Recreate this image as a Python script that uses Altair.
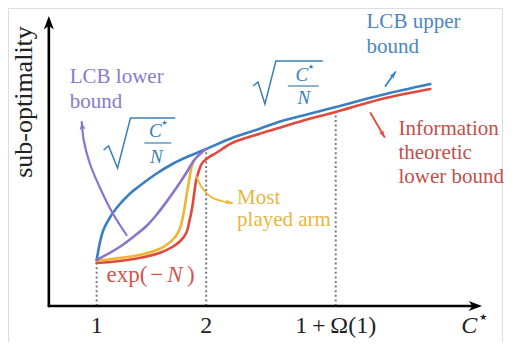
import math
import altair as alt
import pandas as pd

# ---------------- data (x in C* units, y in sub-optimality units) ----------------
blue_x = [1.0, 1.055, 1.118, 1.182, 1.3, 1.391, 1.527, 1.691, 1.845, 2.0, 2.236, 2.482, 2.691, 2.936, 3.182, 3.6, 4.045]
blue_y = [0.46, 0.74, 0.88, 0.98, 1.12, 1.20, 1.31, 1.42, 1.50, 1.57, 1.68, 1.77, 1.85, 1.92, 1.99, 2.11, 2.22]

red_x = [1.0, 1.209, 1.391, 1.573, 1.691, 1.764, 1.818, 1.845, 1.873, 1.891, 1.909, 1.936, 1.964, 2.027, 2.091, 2.236, 2.482, 2.691, 2.936, 3.182, 3.6, 4.045]
red_y = [0.43, 0.45, 0.48, 0.53, 0.59, 0.65, 0.73, 0.84, 0.99, 1.13, 1.26, 1.36, 1.43, 1.49, 1.53, 1.63, 1.72, 1.79, 1.87, 1.94, 2.07, 2.17]

yellow_x = [1.0, 1.209, 1.391, 1.573, 1.636, 1.709, 1.755, 1.791, 1.818, 1.845, 1.864, 1.891]
yellow_y = [0.45, 0.48, 0.51, 0.57, 0.61, 0.68, 0.76, 0.91, 1.09, 1.26, 1.38, 1.46]

purple_x = [1.0, 1.118, 1.236, 1.345, 1.455, 1.545, 1.636, 1.727, 1.818, 1.891, 1.964, 2.0]
purple_y = [0.46, 0.53, 0.61, 0.70, 0.80, 0.91, 1.04, 1.18, 1.33, 1.46, 1.54, 1.57]

# annotation arrows
purple_arrow_x = [1.273, 1.145, 1.027, 0.936, 0.882, 0.864]
purple_arrow_y = [0.71, 0.93, 1.19, 1.43, 1.66, 1.84]
blue_arrow_x = [3.636, 3.727]
blue_arrow_y = [2.20, 2.34]
red_arrow_x = [3.50, 3.627]
red_arrow_y = [1.93, 1.69]
yellow_arrow_x = [1.909, 1.964, 2.045, 2.136, 2.236]
yellow_arrow_y = [1.30, 1.18, 1.09, 1.05, 1.03]

# dotted guides
guide_x = [1.0, 2.0, 3.182]
guide_top = [0.44, 1.55, 1.98]

# tick labels
tick_x = [1.0, 2.0, 3.182]
tick_labels = ["1", "2", "1\u2009+\u2009Ω(1)"]

# axis geometry
x_min, x_max = 0.1909, 4.70
y_min, y_max = -0.36, 2.98
origin_x = 0.5636
x_axis_end, y_axis_end = 4.427, 2.80
x_axis_tip, y_axis_tip = 4.518, 2.90

# colours
BLUE = "#3a7fc1"
RED = "#e0493b"
PURPLE = "#8b74cf"
YELLOW = "#f0b52e"
T_PURPLE = "#8a7acb"
T_BLUE = "#4a87c4"
T_RED = "#c2504a"
T_YELLOW = "#e9b540"
SQRT = "#3b80b2"
EXP = "#d2564f"
INK = "#222222"
FONT = "Liberation Serif"

# pixel scale factors (for arrow angle computation)
PX_X = 496 / (x_max - x_min)
PX_Y = 334 / (y_max - y_min)

X = lambda: alt.X("x:Q", scale=alt.Scale(domain=[x_min, x_max], nice=False, zero=False), axis=None)
Y = lambda: alt.Y("y:Q", scale=alt.Scale(domain=[y_min, y_max], nice=False, zero=False), axis=None)

ARROW = "M0,0 L-2,-0.75 L-1.45,0 L-2,0.75 Z"


def line(xs, ys, color, width=2.6):
    df = pd.DataFrame({"x": xs, "y": ys, "i": range(len(xs))})
    return alt.Chart(df).mark_line(color=color, strokeWidth=width, interpolate="catmull-rom",
                                   strokeCap="round").encode(x=X(), y=Y(), order="i:Q")


def heads(rows):
    recs = []
    for (xs, ys, color, size) in rows:
        dx = (xs[-1] - xs[-2]) * PX_X
        dy = -(ys[-1] - ys[-2]) * PX_Y
        ang = math.degrees(math.atan2(dy, dx)) % 360
        recs.append({"x": xs[-1], "y": ys[-1], "angle": ang, "color": color, "size": size})
    df = pd.DataFrame(recs)
    return alt.Chart(df).mark_point(shape=ARROW, filled=True, opacity=1, strokeWidth=0).encode(
        x=X(), y=Y(),
        angle=alt.Angle("angle:Q", scale=None),
        color=alt.Color("color:N", scale=None),
        size=alt.Size("size:Q", scale=None),
    )


def texts(rows, size, align="left", baseline="alphabetic", style="normal", angle=0, font=FONT):
    df = pd.DataFrame(rows, columns=["x", "y", "t", "color"])
    kw = dict(align=align, baseline=baseline, font=font, fontSize=size, fontStyle=style)
    if angle:
        kw["angle"] = angle
    return alt.Chart(df).mark_text(**kw).encode(
        x=X(), y=Y(), text="t:N", color=alt.Color("color:N", scale=None))


layers = []

# dotted guides
gdf = pd.DataFrame({"x": guide_x, "y": [0] * 3, "y2": guide_top})
layers.append(alt.Chart(gdf).mark_rule(color="#7a7a7a", strokeWidth=2, strokeDash=[2, 2.6]).encode(
    x=X(), y=Y(), y2="y2:Q"))

# axes
layers.append(line([origin_x, x_axis_end], [0, 0], "black", 2.6))
layers.append(line([origin_x, origin_x], [0, y_axis_end], "black", 2.6))
layers.append(heads([([origin_x, x_axis_tip], [0, 0], "black", 180),
                     ([origin_x, origin_x], [0, y_axis_tip], "black", 180)]))

# curves
layers.append(line(blue_x, blue_y, BLUE))
layers.append(line(red_x, red_y, RED))
layers.append(line(yellow_x, yellow_y, YELLOW))
layers.append(line(purple_x, purple_y, PURPLE))

# annotation arrows
layers.append(line(purple_arrow_x, purple_arrow_y, PURPLE, 2.2))
layers.append(line(blue_arrow_x, blue_arrow_y, BLUE, 1.8))
layers.append(line(red_arrow_x, red_arrow_y, RED, 1.8))
layers.append(line(yellow_arrow_x, yellow_arrow_y, YELLOW, 1.8))
layers.append(heads([(purple_arrow_x, purple_arrow_y, PURPLE, 64),
                     (blue_arrow_x, blue_arrow_y, BLUE, 45),
                     (red_arrow_x, red_arrow_y, RED, 45),
                     (yellow_arrow_x, yellow_arrow_y, YELLOW, 45)]))

# square-root symbols
sq_low_x = [1.0636, 1.109, 1.191, 1.309, 1.718]
sq_low_y = [1.56, 1.60, 1.38, 1.88, 1.88]
sq_up_x = [2.427, 2.473, 2.536, 2.636, 3.064]
sq_up_y = [2.20, 2.24, 2.02, 2.45, 2.45]
for xs, ys in [(sq_low_x, sq_low_y), (sq_up_x, sq_up_y)]:
    df = pd.DataFrame({"x": xs, "y": ys, "i": range(len(xs))})
    layers.append(alt.Chart(df).mark_line(color=SQRT, strokeWidth=1.5, strokeJoin="miter").encode(
        x=X(), y=Y(), order="i:Q"))
bars = pd.DataFrame({"x": [1.436, 2.745], "x2": [1.682, 3.027], "y": [1.63, 2.20]})
layers.append(alt.Chart(bars).mark_rule(color=SQRT, strokeWidth=1.2).encode(x=X(), x2="x2:Q", y=Y()))
layers.append(texts([(1.536, 1.755, "C", SQRT), (1.545, 1.49, "N", SQRT),
                     (2.873, 2.315, "C", SQRT), (2.891, 2.08, "N", SQRT)],
                    19, align="center", baseline="middle", style="italic"))
layers.append(texts([(1.618, 1.835, "★", SQRT), (2.955, 2.395, "★", SQRT)],
                    7, align="center", baseline="middle", font="DejaVu Sans"))

# labels
layers.append(texts([(0.7545, 2.23, "LCB lower", T_PURPLE), (0.7545, 1.98, "bound", T_PURPLE),
                     (3.4636, 2.78, "LCB upper", T_BLUE), (3.4636, 2.53, "bound", T_BLUE),
                     (3.7545, 1.71, "Information", T_RED), (3.7545, 1.47, "theoretic", T_RED),
                     (3.7545, 1.23, "lower bound", T_RED),
                     (2.2818, 1.02, "Most", T_YELLOW), (2.2818, 0.80, "played arm", T_YELLOW)], 21))

# exp(-N)
layers.append(texts([(1.0909, 0.24, "exp(", EXP)], 23))
layers.append(texts([(1.548, 0.24, "−", EXP), (1.86, 0.24, ")", EXP)], 23, align="center"))
layers.append(texts([(1.715, 0.24, "N", EXP)], 23, align="center", style="italic"))

# tick labels
tdf = [(x, -0.20, t, INK) for x, t in zip(tick_x, tick_labels)]
layers.append(texts(tdf, 24, align="center", baseline="middle"))
layers.append(texts([(4.40, -0.20, "C", INK)], 24, align="center", baseline="middle", style="italic"))
layers.append(texts([(4.53, -0.11, "★", INK)], 9, align="center", baseline="middle", font="DejaVu Sans"))

# y-axis title
layers.append(texts([(0.335, 2.04, "sub-optimality", INK)], 26, align="center",
                    baseline="middle", angle=270))

chart = alt.layer(*layers).properties(
    width=496, height=334,
    autosize=alt.AutoSizeParams(type="fit", contains="padding"),
    padding=0,
).configure_view(stroke=None).configure(background="white")

chart.save("out.html", embed_options={"renderer": "svg", "actions": False})
